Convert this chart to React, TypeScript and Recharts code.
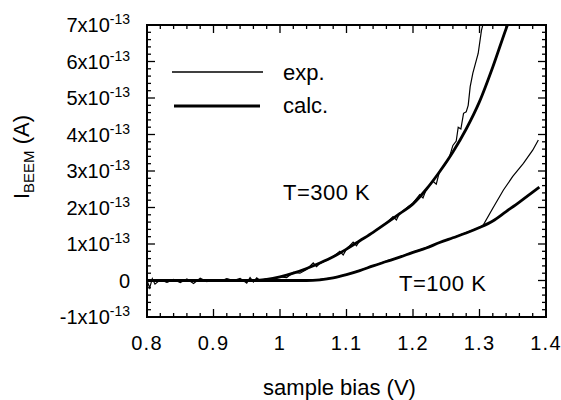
import { LineChart, Line, XAxis, YAxis, Legend, Label, ReferenceDot, ReferenceLine, ReferenceArea } from 'recharts'

// current in units of 1e-13 A, bias in V
const calc300 = [
  [0.8, 0], [0.9, 0], [0.96, 0], [0.98, 0.03], [1.0, 0.1], [1.02, 0.2], [1.04, 0.33],
  [1.06, 0.48], [1.08, 0.65], [1.1, 0.86], [1.12, 1.09], [1.14, 1.32], [1.16, 1.57],
  [1.18, 1.83], [1.2, 2.1], [1.22, 2.5], [1.24, 2.98], [1.26, 3.52], [1.28, 4.15],
  [1.3, 4.9], [1.32, 5.85], [1.34, 6.9], [1.342, 7.0],
]

const exp300 = [
  [0.8, 0.0], [0.804, -0.2], [0.808, 0.05], [0.812, -0.1], [0.82, 0.02], [0.83, -0.05],
  [0.84, 0.03], [0.85, -0.06], [0.86, 0.04], [0.87, -0.08], [0.88, 0.06], [0.89, -0.03],
  [0.9, 0.02], [0.91, -0.02], [0.92, 0.05], [0.93, 0.0], [0.94, 0.06], [0.95, -0.07],
  [0.955, 0.08], [0.96, -0.04], [0.965, 0.07], [0.97, 0.0], [0.98, 0.05], [0.99, 0.04],
  [1.0, 0.1], [1.01, 0.08], [1.02, 0.22], [1.03, 0.2], [1.04, 0.3], [1.05, 0.48],
  [1.055, 0.38], [1.06, 0.47], [1.07, 0.55], [1.08, 0.66], [1.09, 0.8], [1.095, 0.7],
  [1.1, 0.86], [1.11, 1.05], [1.115, 0.95], [1.12, 1.1], [1.13, 1.2], [1.14, 1.32],
  [1.15, 1.45], [1.16, 1.58], [1.17, 1.75], [1.175, 1.66], [1.18, 1.84], [1.19, 1.98],
  [1.2, 2.12], [1.21, 2.35], [1.215, 2.26], [1.22, 2.5], [1.23, 2.72], [1.235, 2.64],
  [1.24, 3.0], [1.25, 3.22], [1.255, 3.4], [1.26, 3.7], [1.265, 3.82], [1.268, 4.2],
  [1.272, 4.15], [1.276, 4.58], [1.28, 4.62], [1.283, 4.8], [1.286, 5.31], [1.29, 5.68],
  [1.298, 6.22], [1.303, 6.86], [1.305, 7.0],
]

const calc100 = [
  [0.8, 0], [0.9, 0], [1.0, 0], [1.04, 0], [1.06, 0.02], [1.08, 0.07], [1.1, 0.16],
  [1.12, 0.27], [1.14, 0.4], [1.16, 0.52], [1.18, 0.64], [1.2, 0.77], [1.22, 0.89],
  [1.24, 1.04], [1.26, 1.17], [1.28, 1.3], [1.3, 1.45], [1.32, 1.63], [1.34, 1.89],
  [1.36, 2.15], [1.38, 2.42], [1.39, 2.56],
]

const exp100 = [
  [0.8, 0.02], [0.83, -0.03], [0.86, 0.02], [0.89, -0.02], [0.92, 0.03], [0.95, -0.02],
  [0.98, 0.02], [1.01, -0.02], [1.04, 0.01], [1.06, 0.03], [1.08, 0.07], [1.1, 0.16],
  [1.12, 0.28], [1.14, 0.4], [1.16, 0.53], [1.18, 0.64], [1.2, 0.78], [1.22, 0.9],
  [1.24, 1.04], [1.26, 1.17], [1.28, 1.31], [1.3, 1.45], [1.305, 1.5], [1.32, 1.98],
  [1.336, 2.48], [1.35, 2.85], [1.366, 3.21], [1.38, 3.57], [1.3885, 3.85],
]

// minor ticks every 0.02 V and 0.2e-13 A, labelled every 0.1 V and 1e-13 A
const xTicks = Array.from({ length: 31 }, (_, i) => Math.round((0.8 + i * 0.02) * 1000) / 1000)
const yTicks = Array.from({ length: 41 }, (_, i) => Math.round((-1 + i * 0.2) * 1000) / 1000)

// temperature annotations (bias, current at text baseline)
const tempLabels = [
  { text: 'T=300 K', x: 1.0045, y: 2.2 },
  { text: 'T=100 K', x: 1.179, y: -0.29 },
]

const toPts = (arr: number[][]) => arr.map(([x, y]) => ({ x, y }))

const FONT = '"Liberation Sans", Arial, sans-serif'
const xDom: [number, number] = [0.8, 1.4]
const yDom: [number, number] = [-1, 7]
const frame = { stroke: '#000', strokeWidth: 2 }
const isMajor = (v: number, step: number) => Math.abs(v / step - Math.round(v / step)) < 1e-6
const blank = () => ''

// inward tick lengths in data units (x ticks measured along y, y ticks along x)
const xTickLen = (t: number) => (isMajor(t, 0.1) ? 0.22 : 0.11)
const yTickLen = (t: number) => (isMajor(t, 1) ? 0.012 : 0.006)

function BottomTick({ x, y, payload }: any) {
  const v = payload.value
  if (!isMajor(v, 0.1)) return <g />
  return (
    <text x={x} y={y + 33} textAnchor="middle" fontSize={20} letterSpacing={1.2} fill="#000" fontFamily={FONT}>
      {Math.round(v * 10) / 10}
    </text>
  )
}

function LeftTick({ x, y, payload }: any) {
  const v = payload.value
  if (!isMajor(v, 1)) return <g />
  const n = Math.round(v)
  return (
    <text x={x - 17} y={y} dy="0.35em" textAnchor="end" fontSize={20} fill="#000" fontFamily={FONT}>
      {n === 0 ? '0' : (
        <>
          {`${n}x10`}
          <tspan dy={-8} fontSize={14}>-13</tspan>
        </>
      )}
    </text>
  )
}

function TempLabel({ viewBox, text }: any) {
  return (
    <text x={viewBox.x} y={viewBox.y} fontSize={22} letterSpacing={0.5} fill="#000" fontFamily={FONT}>
      {text}
    </text>
  )
}

function LegendBox() {
  return (
    <svg width={160} height={70}>
      <line x1={1} y1={17} x2={92} y2={17} stroke="#000" strokeWidth={1.3} />
      <text x={112} y={25} fontSize={22} fill="#000" fontFamily={FONT}>exp.</text>
      <line x1={3} y1={51} x2={89} y2={51} stroke="#000" strokeWidth={2.8} />
      <text x={112} y={58} fontSize={22} fill="#000" fontFamily={FONT}>calc.</text>
    </svg>
  )
}

export default function App() {
  return (
    <div style={{ position: 'absolute', left: 0, top: 0, width: 561, height: 400, background: '#fff' }}>
      <LineChart width={561} height={400} margin={{ top: 25, right: 15, bottom: 0, left: 0 }}>
        <XAxis xAxisId="b" dataKey="x" type="number" domain={xDom} ticks={xTicks} tickFormatter={blank} minTickGap={0}
          tick={<BottomTick />} tickLine={false} tickSize={0} tickMargin={0} height={83} axisLine={frame}>
          <Label content={({ viewBox }: any) => (
            <text x={viewBox.x + viewBox.width / 2 - 7} y={viewBox.y + 78} textAnchor="middle" fontSize={22} fill="#000" fontFamily={FONT}>
              sample bias (V)
            </text>
          )} />
        </XAxis>

        <YAxis yAxisId="l" type="number" domain={yDom} ticks={yTicks} tickFormatter={blank} minTickGap={0}
          width={147} tick={<LeftTick />} tickLine={false} tickSize={0} tickMargin={0} axisLine={frame}>
          <Label content={({ viewBox }: any) => {
            const cx = viewBox.x + 29
            const cy = viewBox.y + viewBox.height / 2 - 14
            return (
              <text x={cx} y={cy} transform={`rotate(-90 ${cx} ${cy})`} textAnchor="middle" fontSize={22} fill="#000" fontFamily={FONT}>
                I<tspan dy={5} fontSize={15}>BEEM</tspan><tspan dy={-5}> (A)</tspan>
              </text>
            )
          }} />
        </YAxis>

        <ReferenceArea xAxisId="b" yAxisId="l" x1={0.8} x2={1.4} y1={-1} y2={7} fill="none" fillOpacity={0}
          stroke="#000" strokeWidth={2} strokeOpacity={1} ifOverflow="visible" />
        {xTicks.flatMap((t) => [
          <ReferenceLine key={`b${t}`} xAxisId="b" yAxisId="l" stroke="#000" strokeWidth={1.3} strokeOpacity={1}
            segment={[{ x: t, y: -1 }, { x: t, y: -1 + xTickLen(t) }]} />,
          <ReferenceLine key={`t${t}`} xAxisId="b" yAxisId="l" stroke="#000" strokeWidth={1.3} strokeOpacity={1}
            segment={[{ x: t, y: 7 }, { x: t, y: 7 - xTickLen(t) }]} />,
        ])}
        {yTicks.flatMap((t) => [
          <ReferenceLine key={`l${t}`} xAxisId="b" yAxisId="l" stroke="#000" strokeWidth={1.3} strokeOpacity={1}
            segment={[{ x: 0.8, y: t }, { x: 0.8 + yTickLen(t), y: t }]} />,
          <ReferenceLine key={`r${t}`} xAxisId="b" yAxisId="l" stroke="#000" strokeWidth={1.3} strokeOpacity={1}
            segment={[{ x: 1.4, y: t }, { x: 1.4 - yTickLen(t), y: t }]} />,
        ])}

        <Legend layout="vertical" align="center" verticalAlign="middle" content={<LegendBox />}
          wrapperStyle={{ left: 171, top: 55 }} />

        <Line xAxisId="b" yAxisId="l" data={toPts(exp300)} dataKey="y" name="exp." type="linear" stroke="#000" strokeWidth={1.2} dot={false} isAnimationActive={false} />
        <Line xAxisId="b" yAxisId="l" data={toPts(exp100)} dataKey="y" name="exp. 100K" type="linear" stroke="#000" strokeWidth={1.2} dot={false} isAnimationActive={false} legendType="none" />
        <Line xAxisId="b" yAxisId="l" data={toPts(calc300)} dataKey="y" name="calc." type="monotone" stroke="#000" strokeWidth={2.8} dot={false} isAnimationActive={false} />
        <Line xAxisId="b" yAxisId="l" data={toPts(calc100)} dataKey="y" name="calc. 100K" type="monotone" stroke="#000" strokeWidth={2.8} dot={false} isAnimationActive={false} legendType="none" />

        {tempLabels.map((t) => (
          <ReferenceDot key={t.text} xAxisId="b" yAxisId="l" x={t.x} y={t.y} r={0} fill="none" stroke="none"
            label={<TempLabel text={t.text} />} />
        ))}
      </LineChart>
    </div>
  )
}
